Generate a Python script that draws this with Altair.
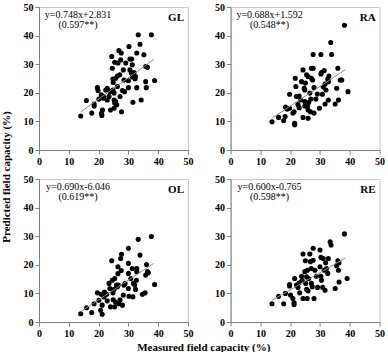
import altair as alt
import pandas as pd

FONT = "Liberation Serif"

# ---- data ----
panel_names = ["GL", "RA", "OL", "RE"]
equations = ["y=0.748x+2.831", "y=0.688x+1.592", "y=0.690x-6.046", "y=0.600x-0.765"]
r_values = ["(0.597**)", "(0.548**)", "(0.619**)", "(0.598**)"]
slopes = [0.748, 0.688, 0.690, 0.600]
intercepts = [2.831, 1.592, -6.046, -0.765]
fit_x_range = [14.0, 38.5]
axis_ticks = [0, 10, 20, 30, 40, 50]

gl_x = [14.0, 15.9, 17.7, 18.5, 18.5, 19.6, 19.8, 20.1, 20.9, 21.3, 21.0, 21.1, 21.6, 21.6, 22.4, 22.9,
        23.5, 22.9, 23.8, 24.0, 24.4, 24.6, 24.8, 24.9, 24.8, 25.2, 25.2, 25.4, 25.2, 25.4, 25.7, 25.7,
        26.1, 26.3, 26.3, 26.5, 26.8, 27.1, 27.2, 27.4, 27.6, 27.7, 28.0, 28.3, 28.5, 28.7, 29.1, 30.0,
        30.0, 30.2, 30.5, 31.1, 30.5, 31.0, 31.3, 31.3, 31.5, 31.9, 32.4, 32.8, 32.8, 33.3, 33.9, 34.3,
        35.2, 35.8, 36.0, 36.4, 35.8, 37.7, 38.8, 32.2]
gl_y = [11.9, 17.3, 12.9, 16.1, 15.4, 21.8, 20.8, 17.8, 19.3, 14.0, 12.9, 12.1, 18.1, 18.7, 21.0, 21.6,
        18.7, 17.5, 20.4, 14.0, 32.7, 28.6, 24.8, 23.6, 21.0, 19.9, 17.5, 16.4, 14.6, 30.7, 25.1, 17.0,
        15.8, 22.2, 25.9, 30.4, 34.8, 26.3, 18.7, 31.5, 33.9, 13.4, 20.8, 28.0, 24.5, 20.4, 30.4, 21.8,
        24.2, 36.2, 31.8, 31.8, 28.0, 26.9, 29.8, 25.5, 16.7, 27.1, 25.7, 33.9, 21.8, 40.3, 37.0, 17.5,
        33.3, 23.9, 21.8, 28.9, 29.2, 40.3, 24.3, 24.9]

ra_x = [13.9, 16.1, 17.8, 18.4, 19.0, 18.3, 19.8, 19.8, 20.9, 21.3, 21.5, 21.5, 21.7, 21.9, 22.1, 22.6,
        23.0, 23.0, 23.5, 23.8, 24.3, 24.7, 24.3, 24.9, 25.1, 24.9, 24.9, 25.5, 26.0, 25.8, 26.0, 26.0,
        26.2, 26.6, 26.8, 26.9, 27.1, 27.7, 27.1, 27.5, 27.7, 28.0, 28.0, 28.6, 29.1, 29.8, 30.3, 30.3,
        30.5, 30.8, 31.1, 31.4, 31.7, 32.0, 32.6, 32.8, 32.8, 33.0, 33.6, 33.9, 35.1, 35.6, 36.0, 36.2,
        36.8, 37.3, 38.2, 39.4, 31.7]
ra_y = [9.9, 11.4, 10.3, 15.0, 14.3, 11.7, 19.5, 14.6, 12.9, 13.4, 9.3, 8.8, 25.1, 22.2, 18.7, 15.9,
        14.8, 18.9, 17.5, 23.9, 28.0, 21.6, 11.4, 21.0, 23.4, 15.4, 16.9, 26.3, 25.7, 15.2, 14.0, 11.1,
        16.6, 19.9, 13.4, 17.8, 28.6, 28.6, 25.1, 24.5, 33.4, 21.8, 12.9, 17.8, 19.6, 14.6, 33.4, 26.6,
        27.1, 19.5, 22.0, 27.8, 16.1, 21.0, 24.8, 23.9, 17.5, 25.9, 37.6, 33.4, 16.1, 21.6, 28.6, 17.5,
        24.5, 24.5, 43.6, 20.4, 23.1]

ol_x = [14.0, 16.0, 17.7, 18.5, 19.6, 20.1, 20.9, 20.7, 21.2, 21.2, 21.8, 22.0, 22.7, 22.9, 23.5, 23.8,
        24.0, 24.4, 24.6, 24.8, 24.9, 25.2, 25.4, 25.4, 25.7, 26.3, 26.5, 26.5, 26.6, 26.8, 27.2, 27.4,
        27.7, 27.6, 28.0, 28.3, 28.5, 28.9, 30.0, 30.0, 30.0, 30.0, 30.2, 30.8, 31.3, 31.5, 31.7, 32.1,
        32.4, 32.8, 32.8, 33.3, 33.9, 34.7, 35.6, 35.8, 36.1, 36.4, 36.7, 37.7, 38.8, 32.7, 26.0]
ol_y = [2.9, 5.0, 3.3, 6.4, 10.2, 7.6, 9.7, 4.1, 2.7, 5.9, 8.8, 10.5, 9.7, 7.4, 13.5, 11.7,
        5.3, 21.4, 14.6, 10.2, 7.8, 11.4, 15.2, 5.3, 7.0, 12.3, 16.9, 19.3, 12.9, 6.4, 7.8, 22.2,
        23.7, 18.0, 5.9, 9.4, 12.9, 13.5, 25.8, 20.5, 17.0, 11.7, 9.0, 15.2, 18.7, 8.8, 13.5, 12.9,
        11.4, 18.7, 17.6, 28.9, 23.4, 9.7, 10.2, 16.4, 20.1, 17.6, 17.2, 29.9, 13.1, 14.6, 12.9]

re_x = [13.9, 16.1, 17.8, 18.4, 19.8, 19.8, 20.1, 20.9, 21.3, 21.3, 21.5, 22.1, 22.6, 23.0, 23.2, 23.8,
        24.0, 24.3, 24.3, 24.9, 25.1, 25.2, 25.5, 25.5, 25.7, 25.8, 26.0, 26.2, 26.6, 26.8, 27.1, 27.1,
        27.4, 27.7, 27.7, 28.0, 28.3, 28.8, 29.2, 30.0, 30.0, 30.3, 30.3, 30.5, 30.9, 31.1, 31.4, 31.7,
        32.2, 32.6, 32.8, 33.4, 33.7, 35.1, 35.6, 36.0, 36.4, 36.2, 36.4, 38.2, 39.1, 31.9]
re_y = [6.4, 9.0, 6.4, 10.0, 13.1, 12.6, 9.4, 8.2, 6.7, 6.1, 15.2, 12.9, 12.1, 13.7, 10.2, 16.0,
        14.6, 23.8, 8.2, 17.6, 21.4, 13.5, 15.8, 11.4, 8.2, 18.1, 10.9, 15.2, 23.8, 21.1, 18.7, 13.5,
        12.3, 25.8, 21.6, 8.2, 18.1, 16.0, 12.1, 25.2, 19.3, 22.6, 16.0, 14.6, 12.1, 22.2, 18.1, 11.1,
        18.7, 17.0, 22.2, 28.0, 26.9, 11.7, 19.7, 21.4, 20.7, 18.1, 14.0, 30.8, 15.2, 20.7]

xs_all = [gl_x, ra_x, ol_x, re_x]
ys_all = [gl_y, ra_y, ol_y, re_y]

W, H = 149, 143


def make_axis():
    return alt.Axis(values=axis_ticks, tickCount=6, grid=False, title=None, format="d",
                    labelOverlap=False, labelFlush=False)


def panel(i):
    pts = pd.DataFrame({"x": xs_all[i], "y": ys_all[i]})
    sx = alt.Scale(domain=[0, 50], nice=False, zero=False)
    sy = alt.Scale(domain=[0, 50], nice=False, zero=False)
    points = alt.Chart(pts).mark_circle(size=26, color="black", opacity=1).encode(
        x=alt.X("x:Q", scale=sx, axis=make_axis()),
        y=alt.Y("y:Q", scale=sy, axis=make_axis()),
    )
    fit_df = pd.DataFrame({"x": fit_x_range})
    fit = alt.Chart(fit_df).transform_calculate(
        y=f"{slopes[i]} * datum.x + ({intercepts[i]})"
    ).mark_line(color="#8a8a8a", strokeWidth=1).encode(
        x=alt.X("x:Q", scale=sx, axis=make_axis()),
        y=alt.Y("y:Q", scale=sy, axis=make_axis()),
    )
    eq = alt.Chart(pd.DataFrame({"t": [equations[i]]})).mark_text(
        font=FONT, fontSize=10, align="center", baseline="middle", color="black"
    ).encode(x=alt.value(39), y=alt.value(8), text="t:N")
    rv = alt.Chart(pd.DataFrame({"t": [r_values[i]]})).mark_text(
        font=FONT, fontSize=10, align="center", baseline="middle", color="black"
    ).encode(x=alt.value(39), y=alt.value(18), text="t:N")
    nm = alt.Chart(pd.DataFrame({"t": [panel_names[i]]})).mark_text(
        font=FONT, fontSize=11, fontWeight="bold", align="right", baseline="middle", color="black"
    ).encode(x=alt.value(W - 4), y=alt.value(11), text="t:N")
    return alt.layer(points, fit, eq, rv, nm).properties(width=W, height=H)


grid = alt.concat(
    *[panel(i) for i in range(4)],
    columns=2,
    spacing={"row": 29, "column": 42.6},
    bounds="flush",
).properties(
    title=alt.TitleParams(
        "Measured field capacity (%)", orient="bottom", anchor="middle",
        font=FONT, fontSize=11, fontWeight="bold", color="black", offset=3,
    )
)

chart = alt.hconcat(grid).properties(
    title=alt.TitleParams(
        "Predicted field capacity (%)", orient="left", anchor="middle",
        font=FONT, fontSize=11, fontWeight="bold", color="black", offset=11,
    ),
    padding={"left": 0, "top": 1, "right": 0, "bottom": 0},
    background="white",
).configure_view(
    stroke="#c8c8c8", strokeWidth=1
).configure_axis(
    domainColor="#7f7f7f", tickColor="#7f7f7f", tickSize=4,
    labelFont=FONT, labelFontSize=10, labelFontWeight="bold", labelColor="black",
    labelPadding=2, labelOverlap=False,
)

chart.save("out.html", embed_options={"renderer": "svg", "actions": False})
